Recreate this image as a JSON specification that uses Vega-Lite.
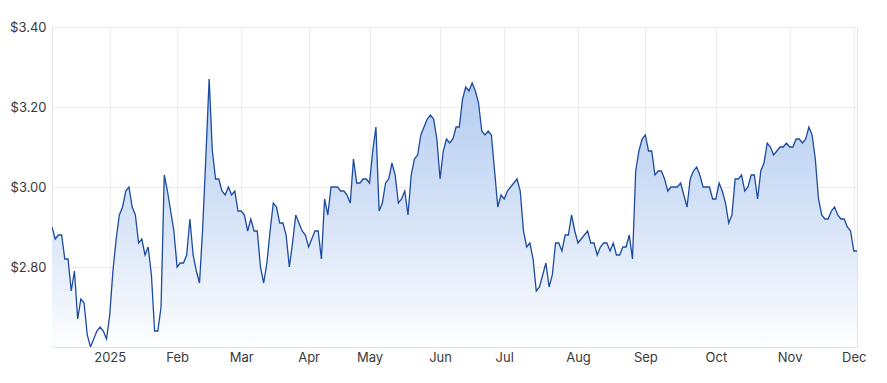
{
  "$schema": "https://vega.github.io/schema/vega-lite/v6.json",
  "width": 805,
  "height": 320,
  "autosize": "none",
  "padding": {"left": 52, "top": 27, "right": 30, "bottom": 36},
  "background": "#ffffff",
  "config": {
    "font": "Inter",
    "view": {"stroke": "#e3e3e3", "strokeWidth": 1},
    "axis": {"labelFont": "Inter", "labelFontSize": 13, "labelColor": "#3a3a3a", "gridColor": "#ececec", "gridWidth": 1, "ticks": false, "domain": false, "title": null}
  },
  "data": {"values": [
    {"d":"2024-12-04","p":2.90},{"d":"2024-12-05","p":2.87},{"d":"2024-12-06","p":2.88},{"d":"2024-12-09","p":2.88},{"d":"2024-12-10","p":2.82},{"d":"2024-12-11","p":2.82},{"d":"2024-12-12","p":2.74},{"d":"2024-12-13","p":2.79},{"d":"2024-12-16","p":2.67},{"d":"2024-12-17","p":2.72},{"d":"2024-12-18","p":2.71},{"d":"2024-12-19","p":2.63},{"d":"2024-12-20","p":2.60},{"d":"2024-12-23","p":2.62},{"d":"2024-12-24","p":2.64},{"d":"2024-12-27","p":2.65},{"d":"2024-12-30","p":2.64},{"d":"2024-12-31","p":2.62},
    {"d":"2025-01-02","p":2.68},{"d":"2025-01-03","p":2.79},{"d":"2025-01-06","p":2.87},{"d":"2025-01-07","p":2.93},{"d":"2025-01-08","p":2.95},{"d":"2025-01-09","p":2.99},{"d":"2025-01-10","p":3.00},{"d":"2025-01-13","p":2.95},{"d":"2025-01-14","p":2.93},{"d":"2025-01-15","p":2.86},{"d":"2025-01-16","p":2.87},{"d":"2025-01-17","p":2.83},{"d":"2025-01-20","p":2.85},{"d":"2025-01-21","p":2.78},{"d":"2025-01-22","p":2.64},{"d":"2025-01-23","p":2.64},{"d":"2025-01-24","p":2.70},{"d":"2025-01-28","p":3.03},{"d":"2025-01-29","p":2.99},{"d":"2025-01-30","p":2.94},{"d":"2025-01-31","p":2.89},
    {"d":"2025-02-03","p":2.80},{"d":"2025-02-04","p":2.81},{"d":"2025-02-05","p":2.81},{"d":"2025-02-06","p":2.83},{"d":"2025-02-07","p":2.92},{"d":"2025-02-10","p":2.83},{"d":"2025-02-11","p":2.79},{"d":"2025-02-12","p":2.76},{"d":"2025-02-13","p":2.90},{"d":"2025-02-14","p":3.08},{"d":"2025-02-17","p":3.27},{"d":"2025-02-18","p":3.09},{"d":"2025-02-19","p":3.02},{"d":"2025-02-20","p":3.02},{"d":"2025-02-21","p":2.99},{"d":"2025-02-24","p":2.98},{"d":"2025-02-25","p":3.00},{"d":"2025-02-26","p":2.98},{"d":"2025-02-27","p":2.99},{"d":"2025-02-28","p":2.94},
    {"d":"2025-03-03","p":2.94},{"d":"2025-03-04","p":2.93},{"d":"2025-03-05","p":2.89},{"d":"2025-03-06","p":2.92},{"d":"2025-03-07","p":2.89},{"d":"2025-03-10","p":2.89},{"d":"2025-03-11","p":2.80},{"d":"2025-03-12","p":2.76},{"d":"2025-03-13","p":2.81},{"d":"2025-03-14","p":2.89},{"d":"2025-03-17","p":2.96},{"d":"2025-03-18","p":2.95},{"d":"2025-03-19","p":2.91},{"d":"2025-03-20","p":2.91},{"d":"2025-03-21","p":2.88},{"d":"2025-03-24","p":2.80},{"d":"2025-03-25","p":2.86},{"d":"2025-03-26","p":2.93},{"d":"2025-03-27","p":2.91},{"d":"2025-03-28","p":2.89},{"d":"2025-03-31","p":2.88},
    {"d":"2025-04-01","p":2.85},{"d":"2025-04-02","p":2.87},{"d":"2025-04-03","p":2.89},{"d":"2025-04-04","p":2.89},{"d":"2025-04-07","p":2.82},{"d":"2025-04-08","p":2.97},{"d":"2025-04-09","p":2.93},{"d":"2025-04-10","p":3.00},{"d":"2025-04-11","p":3.00},{"d":"2025-04-14","p":3.00},{"d":"2025-04-15","p":2.99},{"d":"2025-04-16","p":2.99},{"d":"2025-04-17","p":2.98},{"d":"2025-04-22","p":2.96},{"d":"2025-04-23","p":3.07},{"d":"2025-04-24","p":3.01},{"d":"2025-04-28","p":3.01},{"d":"2025-04-29","p":3.02},{"d":"2025-04-30","p":3.02},
    {"d":"2025-05-01","p":3.01},{"d":"2025-05-02","p":3.09},{"d":"2025-05-05","p":3.15},{"d":"2025-05-06","p":2.94},{"d":"2025-05-07","p":2.96},{"d":"2025-05-08","p":3.01},{"d":"2025-05-09","p":3.02},{"d":"2025-05-12","p":3.06},{"d":"2025-05-13","p":3.03},{"d":"2025-05-14","p":2.96},{"d":"2025-05-15","p":2.97},{"d":"2025-05-16","p":2.99},{"d":"2025-05-19","p":2.93},{"d":"2025-05-20","p":3.03},{"d":"2025-05-21","p":3.07},{"d":"2025-05-22","p":3.08},{"d":"2025-05-23","p":3.13},{"d":"2025-05-26","p":3.15},{"d":"2025-05-27","p":3.17},{"d":"2025-05-28","p":3.18},{"d":"2025-05-29","p":3.17},{"d":"2025-05-30","p":3.12},
    {"d":"2025-06-02","p":3.02},{"d":"2025-06-03","p":3.09},{"d":"2025-06-04","p":3.12},{"d":"2025-06-05","p":3.11},{"d":"2025-06-06","p":3.12},{"d":"2025-06-10","p":3.15},{"d":"2025-06-11","p":3.15},{"d":"2025-06-12","p":3.22},{"d":"2025-06-13","p":3.25},{"d":"2025-06-16","p":3.24},{"d":"2025-06-17","p":3.26},{"d":"2025-06-18","p":3.24},{"d":"2025-06-19","p":3.21},{"d":"2025-06-20","p":3.14},{"d":"2025-06-23","p":3.13},{"d":"2025-06-24","p":3.14},{"d":"2025-06-25","p":3.13},{"d":"2025-06-26","p":3.04},{"d":"2025-06-27","p":2.95},{"d":"2025-06-30","p":2.98},
    {"d":"2025-07-01","p":2.97},{"d":"2025-07-02","p":2.99},{"d":"2025-07-03","p":3.00},{"d":"2025-07-04","p":3.01},{"d":"2025-07-07","p":3.02},{"d":"2025-07-08","p":2.99},{"d":"2025-07-09","p":2.89},{"d":"2025-07-10","p":2.85},{"d":"2025-07-11","p":2.86},{"d":"2025-07-14","p":2.82},{"d":"2025-07-15","p":2.74},{"d":"2025-07-16","p":2.75},{"d":"2025-07-17","p":2.78},{"d":"2025-07-18","p":2.81},{"d":"2025-07-21","p":2.75},{"d":"2025-07-22","p":2.78},{"d":"2025-07-23","p":2.86},{"d":"2025-07-24","p":2.86},{"d":"2025-07-25","p":2.84},{"d":"2025-07-28","p":2.88},{"d":"2025-07-29","p":2.88},{"d":"2025-07-30","p":2.93},{"d":"2025-07-31","p":2.89},
    {"d":"2025-08-01","p":2.86},{"d":"2025-08-04","p":2.87},{"d":"2025-08-05","p":2.88},{"d":"2025-08-06","p":2.89},{"d":"2025-08-07","p":2.86},{"d":"2025-08-08","p":2.86},{"d":"2025-08-11","p":2.83},{"d":"2025-08-12","p":2.85},{"d":"2025-08-13","p":2.86},{"d":"2025-08-14","p":2.86},{"d":"2025-08-15","p":2.84},{"d":"2025-08-18","p":2.86},{"d":"2025-08-19","p":2.83},{"d":"2025-08-20","p":2.83},{"d":"2025-08-21","p":2.85},{"d":"2025-08-22","p":2.85},{"d":"2025-08-25","p":2.88},{"d":"2025-08-26","p":2.82},{"d":"2025-08-27","p":3.04},{"d":"2025-08-28","p":3.09},{"d":"2025-08-29","p":3.12},
    {"d":"2025-09-01","p":3.13},{"d":"2025-09-02","p":3.09},{"d":"2025-09-03","p":3.09},{"d":"2025-09-04","p":3.03},{"d":"2025-09-05","p":3.04},{"d":"2025-09-08","p":3.04},{"d":"2025-09-09","p":3.02},{"d":"2025-09-10","p":2.99},{"d":"2025-09-11","p":3.00},{"d":"2025-09-12","p":3.00},{"d":"2025-09-15","p":3.00},{"d":"2025-09-16","p":3.01},{"d":"2025-09-17","p":2.98},{"d":"2025-09-18","p":2.95},{"d":"2025-09-19","p":3.02},{"d":"2025-09-22","p":3.04},{"d":"2025-09-23","p":3.05},{"d":"2025-09-24","p":3.03},{"d":"2025-09-25","p":3.00},{"d":"2025-09-26","p":3.00},{"d":"2025-09-29","p":3.00},{"d":"2025-09-30","p":2.97},
    {"d":"2025-10-01","p":2.97},{"d":"2025-10-02","p":3.01},{"d":"2025-10-03","p":2.99},{"d":"2025-10-06","p":2.96},{"d":"2025-10-07","p":2.91},{"d":"2025-10-08","p":2.93},{"d":"2025-10-09","p":3.02},{"d":"2025-10-10","p":3.02},{"d":"2025-10-13","p":3.03},{"d":"2025-10-14","p":2.99},{"d":"2025-10-15","p":3.00},{"d":"2025-10-16","p":3.03},{"d":"2025-10-17","p":3.03},{"d":"2025-10-20","p":2.97},{"d":"2025-10-21","p":3.04},{"d":"2025-10-22","p":3.06},{"d":"2025-10-23","p":3.11},{"d":"2025-10-24","p":3.10},{"d":"2025-10-27","p":3.08},{"d":"2025-10-28","p":3.09},{"d":"2025-10-29","p":3.10},{"d":"2025-10-30","p":3.10},{"d":"2025-10-31","p":3.11},
    {"d":"2025-11-03","p":3.10},{"d":"2025-11-04","p":3.10},{"d":"2025-11-05","p":3.12},{"d":"2025-11-06","p":3.12},{"d":"2025-11-07","p":3.11},{"d":"2025-11-10","p":3.12},{"d":"2025-11-11","p":3.15},{"d":"2025-11-12","p":3.13},{"d":"2025-11-13","p":3.07},{"d":"2025-11-14","p":2.97},{"d":"2025-11-17","p":2.93},{"d":"2025-11-18","p":2.92},{"d":"2025-11-19","p":2.92},{"d":"2025-11-20","p":2.94},{"d":"2025-11-21","p":2.95},{"d":"2025-11-24","p":2.93},{"d":"2025-11-25","p":2.92},{"d":"2025-11-26","p":2.92},{"d":"2025-11-27","p":2.90},{"d":"2025-11-28","p":2.89},
    {"d":"2025-12-01","p":2.84},{"d":"2025-12-02","p":2.84}
  ]},
  "encoding": {
    "x": {
      "field": "d", "type": "ordinal",
      "scale": {"type": "point", "padding": 0},
      "axis": {
        "values": ["2025-01-02","2025-02-03","2025-03-03","2025-04-01","2025-05-01","2025-06-02","2025-07-01","2025-08-01","2025-09-01","2025-10-01","2025-11-03","2025-12-01"],
        "labelExpr": "datum.value == '2025-01-02' ? '2025' : utcFormat(toDate(datum.value), '%b')",
        "labelAngle": 0, "labelPadding": 4, "grid": true, "labelAlign": "center"
      }
    },
    "y": {
      "field": "p", "type": "quantitative",
      "scale": {"domain": [2.6, 3.4], "zero": false, "nice": false},
      "axis": {"values": [2.8, 3.0, 3.2, 3.4], "format": "$.2f", "labelPadding": 6, "grid": true}
    }
  },
  "layer": [
    {
      "mark": {
        "type": "area",
        "clip": true,
        "fill": {"gradient": "linear", "x1": 0, "y1": 0, "x2": 0, "y2": 1,
          "stops": [{"offset": 0, "color": "#b3ccf1"}, {"offset": 0.5, "color": "#d5e2f7"}, {"offset": 1, "color": "#fdfeff"}]},
        "fillOpacity": 1
      },
      "encoding": {"y2": {"datum": 2.6}}
    },
    {
      "mark": {"type": "line", "color": "#1c4ba0", "strokeWidth": 1.3, "clip": true}
    }
  ]
}
